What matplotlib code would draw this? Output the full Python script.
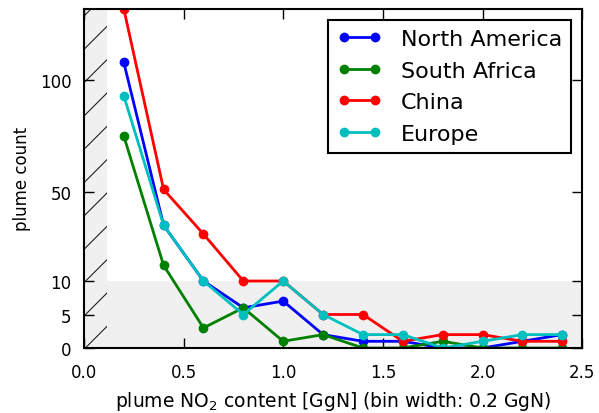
"""
plume_counts.py

Plume count histogram per region.
"""

import matplotlib

matplotlib.use("Agg")

import matplotlib.pyplot as plt
import numpy as np

bins = [0.2, 0.4, 0.6, 0.8, 1.0, 1.2, 1.4, 1.6, 1.8, 2.0, 2.2, 2.4]

north_america = [108, 35, 10, 6, 7, 2, 1, 1, 0, 0, 1, 2]
south_africa = [75, 17, 3, 6, 1, 2, 0, 0, 1, 0, 0, 0]
china = [132, 51, 31, 10, 10, 5, 5, 1, 2, 2, 1, 1]
europe = [93, 35, 10, 5, 10, 5, 2, 2, 0, 1, 2, 2]

regions = ["North America", "South Africa", "China", "Europe"]
colors = ["b", "g", "r", "c"]

y_ticks = [0, 5, 10, 50, 100]
y_break = 10
y_stretch = 3.0
y_top = 132
min_content = 0.115


def forward(y):
    y = np.asarray(y, dtype=float)
    return np.where(y <= y_break, y_stretch * y, y + (y_stretch - 1) * y_break)


def inverse(z):
    z = np.asarray(z, dtype=float)
    return np.where(
        z <= y_stretch * y_break,
        z / y_stretch,
        z - (y_stretch - 1) * y_break,
    )


plt.rcParams["font.family"] = "DejaVu Sans"
plt.rcParams["hatch.linewidth"] = 0.8

fig = plt.figure(figsize=(5.99, 4.14), dpi=100)
ax = fig.add_axes([0.140, 0.157, 0.832, 0.820])

ax.set_yscale("function", functions=(forward, inverse))

# shaded low-count band and hatched detection limit
ax.axhspan(0, y_break, color="#f0f0f0", lw=0, zorder=0)
ax.axvspan(
    0,
    min_content,
    facecolor="#f0f0f0",
    edgecolor="#222222",
    hatch="/",
    lw=0,
    zorder=0,
)

for values, name, color in zip(
    [north_america, south_africa, china, europe],
    regions,
    colors,
):
    ax.plot(
        bins,
        values,
        "-o",
        color=color,
        lw=2,
        ms=6,
        mec=color,
        label=name,
    )

ax.set_xlim(0, 2.5)
ax.set_ylim(0, y_top)
ax.set_yticks(y_ticks)
ax.set_yticklabels([str(t) for t in y_ticks])
ax.set_xticks([0.0, 0.5, 1.0, 1.5, 2.0, 2.5])
ax.set_xticklabels(["0.0", "0.5", "1.0", "1.5", "2.0", "2.5"])
ax.minorticks_off()

ax.tick_params(
    direction="in",
    top=True,
    right=True,
    length=7,
    width=1,
    labelsize=12,
    pad=9,
)
ax.tick_params(axis="x", pad=10.5)

for spine in ax.spines.values():
    spine.set_linewidth(1.5)

ax.set_xlabel(
    "plume NO$_2$ content [GgN] (bin width: 0.2 GgN)",
    fontsize=13.5,
    labelpad=6,
)
ax.set_ylabel("plume count", fontsize=12, labelpad=6)

legend = ax.legend(
    loc="upper right",
    numpoints=2,
    fontsize=16,
    fancybox=False,
    framealpha=1,
    edgecolor="k",
    borderaxespad=0.5,
    handlelength=2.0,
    handletextpad=0.86,
    labelspacing=0.52,
    borderpad=0.42,
)
legend.get_frame().set_linewidth(1.5)

fig.savefig("out.png", dpi=100)
plt.close(fig)
